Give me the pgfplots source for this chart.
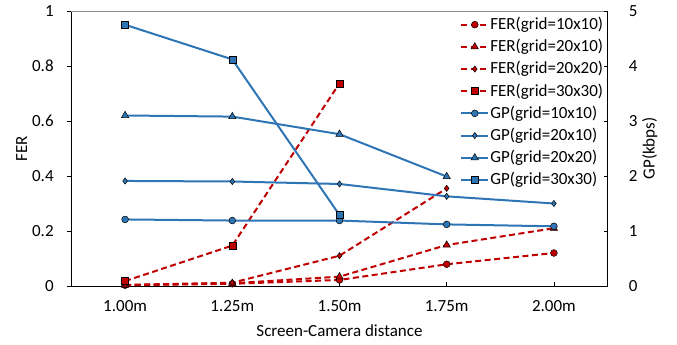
\documentclass[border=0pt]{standalone}
\usepackage{pgfplots}
\pgfplotsset{compat=1.18}
\usepackage{fontspec}
\setmainfont{Carlito}
\definecolor{ferred}{HTML}{C00000}
\definecolor{gpblue}{HTML}{2E75B6}
\definecolor{topgray}{HTML}{8C8C8C}
\pgfplotsset{
  fer/.style={ferred, line width=2bp, dash pattern=on 6bp off 3.5bp,
    mark options={solid, fill=ferred, draw=black, line width=0.5bp}},
  gp/.style={gpblue, line width=2bp,
    mark options={solid, fill=gpblue, draw=black, line width=0.5bp}},
  mc/.style={mark=*, mark size=3.4bp},
  mt/.style={mark=triangle*, mark size=4.2bp},
  md/.style={mark=diamond*, mark size=3.1bp},
  ms/.style={mark=square*, mark size=3.5bp},
  base/.style={
    scale only axis, width=536bp, height=275bp,
    xmin=-0.5, xmax=4.5, clip=false,
    axis line style={black, line width=0.75bp},
    tick style={black, line width=0.6bp},
    major tick length=4bp,
    /pgf/number format/assume math mode=true,
    tick label style={font=\fontsize{17bp}{20bp}\selectfont},
    label style={font=\fontsize{17bp}{20bp}\selectfont},
    legend image code/.code={\draw[mark repeat=2,mark phase=2,##1] plot coordinates {(0bp,0bp)(13.5bp,0bp)(27bp,0bp)};},
  },
}
\begin{document}
\fontsize{17bp}{20bp}\selectfont
\begin{tikzpicture}
\begin{axis}[base, name=main,
  ymin=0, ymax=1,
  axis x line*=bottom, axis y line*=left,
  xtick={0,1,2,3,4}, xticklabels={1.00m,1.25m,1.50m,1.75m,2.00m},
  xtick align=inside, ytick align=outside,
  ytick={0,0.2,0.4,0.6,0.8,1}, yticklabels={0,0.2,0.4,0.6,0.8,1},
  xticklabel style={anchor=center, yshift=-20bp},
  yticklabel style={xshift=-8bp},
  xlabel={Screen-Camera distance}, ylabel={FER},
  every axis x label/.style={at={(axis description cs:0.5,-0.163)}, anchor=center},
  every axis y label/.style={at={(axis description cs:-0.093,0.5)}, anchor=center, rotate=90},
  after end axis/.code={\draw[topgray, line width=0.75bp] (rel axis cs:0,1) -- (rel axis cs:1,1);},
]
\addplot[fer, mc] coordinates {(0,0.003)(1,0.008)(2,0.022)(3,0.079)(4,0.120)};
\addplot[fer, mt] coordinates {(0,0.003)(1,0.010)(2,0.034)(3,0.149)(4,0.210)};
\addplot[fer, md] coordinates {(0,0.004)(1,0.012)(2,0.110)(3,0.355)};
\addplot[fer, ms] coordinates {(0,0.018)(1,0.147)(2,0.737)};
\end{axis}
\begin{axis}[base,
  ymin=0, ymax=5,
  axis x line=none, axis y line*=right,
  ytick align=inside,
  ytick={0,1,2,3,4,5}, yticklabels={0,1,2,3,4,5},
  yticklabel style={anchor=west, xshift=15.6bp},
  ylabel={GP(kbps)},
  every axis y label/.style={at={(axis description cs:1.079,0.5)}, anchor=center, rotate=90},
  legend style={at={(rel axis cs:0.994,0.982)}, anchor=north east, draw=none, fill=none,
    inner sep=0pt, row sep=5.2bp, nodes={inner sep=1bp},
    font=\fontsize{17bp}{20bp}\selectfont},
  legend cell align=left,
]
\addlegendimage{fer, mc}\addlegendentry{FER(grid=10x10)}
\addlegendimage{fer, mt}\addlegendentry{FER(grid=20x10)}
\addlegendimage{fer, md}\addlegendentry{FER(grid=20x20)}
\addlegendimage{fer, ms}\addlegendentry{FER(grid=30x30)}
\addplot[gp, mc] coordinates {(0,1.21)(1,1.19)(2,1.19)(3,1.12)(4,1.085)};
\addlegendentry{GP(grid=10x10)}
\addplot[gp, md] coordinates {(0,1.91)(1,1.90)(2,1.855)(3,1.63)(4,1.50)};
\addlegendentry{GP(grid=20x10)}
\addplot[gp, mt] coordinates {(0,3.10)(1,3.08)(2,2.76)(3,1.99)};
\addlegendentry{GP(grid=20x20)}
\addplot[gp, ms] coordinates {(0,4.75)(1,4.12)(2,1.29)};
\addlegendentry{GP(grid=30x30)}
\end{axis}
\pgfresetboundingbox
\path[use as bounding box] (main.south west) ++(-71.5bp,-59bp) rectangle ++(677bp,345bp);
\end{tikzpicture}
\end{document}
